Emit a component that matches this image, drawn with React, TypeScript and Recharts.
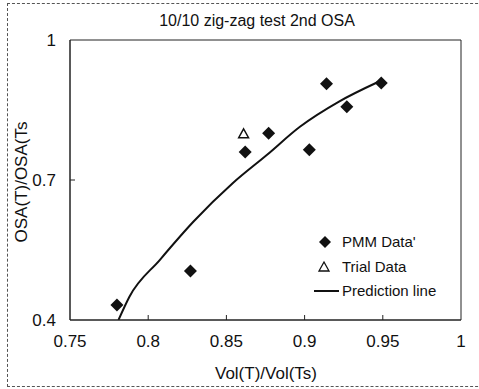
import React from "react";
import {
  ComposedChart,
  Scatter,
  Line,
  XAxis,
  YAxis,
  ReferenceArea,
  Legend,
  Label,
} from "recharts";

const xTicks = [0.75, 0.8, 0.85, 0.9, 0.95, 1];
const yTicks = [0.4, 0.7, 1];

// PMM data (diamonds)
const pmmX = [0.780, 0.827, 0.862, 0.877, 0.903, 0.914, 0.927, 0.949];
const pmmY = [0.432, 0.505, 0.760, 0.800, 0.765, 0.906, 0.857, 0.908];

// trial data (open triangle)
const trialX = [0.861];
const trialY = [0.799];

// prediction line
const predX = [0.781, 0.788, 0.8075, 0.829, 0.854, 0.876, 0.897, 0.922, 0.947];
const predY = [0.400, 0.450, 0.529, 0.611, 0.693, 0.754, 0.814, 0.868, 0.910];

const pmmData = pmmX.map((x, i) => ({ x, y: pmmY[i] }));
const trialData = trialX.map((x, i) => ({ x, y: trialY[i] }));
const predData = predX.map((x, i) => ({ x, y: predY[i] }));

const FONT = "'Liberation Sans', Arial, sans-serif";

const Diamond = (props: any) => {
  const { cx, cy } = props;
  const r = 6.5;
  return <path d={`M${cx},${cy - r}L${cx + r},${cy}L${cx},${cy + r}L${cx - r},${cy}Z`} fill="#111" />;
};

const Triangle = (props: any) => {
  const { cx, cy } = props;
  return (
    <path
      d={`M${cx},${cy - 5}L${cx + 5},${cy + 4}L${cx - 5},${cy + 4}Z`}
      fill="#fff"
      stroke="#111"
      strokeWidth={1.4}
    />
  );
};

const XTick = (props: any) => {
  const { x, y, payload } = props;
  const edge = payload.value === 0.75 || payload.value === 1;
  return (
    <g>
      {!edge && <line x1={x} y1={y} x2={x} y2={y - 5} stroke="#222" />}
      <text x={x} y={y + 27} textAnchor="middle" fontSize={17} fill="#111" fontFamily={FONT}>
        {String(payload.value)}
      </text>
    </g>
  );
};

const YTick = (props: any) => {
  const { x, y, payload } = props;
  const edge = payload.value === 0.4 || payload.value === 1;
  return (
    <g>
      {!edge && <line x1={x} y1={y} x2={x + 5} y2={y} stroke="#222" />}
      <text x={x - 14} y={y + 6} textAnchor="end" fontSize={17} fill="#111" fontFamily={FONT}>
        {String(payload.value)}
      </text>
    </g>
  );
};

const renderLegend = () => (
  <div style={{ fontFamily: FONT, fontSize: 15, color: "#111", lineHeight: "24.5px" }}>
    <div style={{ display: "flex", alignItems: "center" }}>
      <svg width={28} height={14}>
        <path d="M13,1L19,7L13,13L7,7Z" fill="#111" />
      </svg>
      <span style={{ marginLeft: 2 }}>PMM Data'</span>
    </div>
    <div style={{ display: "flex", alignItems: "center" }}>
      <svg width={28} height={14}>
        <path d="M12,2L17,11L7,11Z" fill="#fff" stroke="#111" strokeWidth={1.3} />
      </svg>
      <span style={{ marginLeft: 2 }}>Trial Data</span>
    </div>
    <div style={{ display: "flex", alignItems: "center" }}>
      <svg width={28} height={14}>
        <line x1={2} y1={7} x2={27} y2={7} stroke="#111" strokeWidth={2} />
      </svg>
      <span style={{ marginLeft: 2 }}>Prediction line</span>
    </div>
  </div>
);

export default function App() {
  return (
    <div style={{ position: "absolute", left: 0, top: 0, width: 479, height: 389, background: "#fff", overflow: "hidden" }}>
      <div
        style={{
          position: "absolute",
          left: 7,
          top: 3,
          width: 490,
          height: 382,
          borderLeft: "1px dashed #555",
          borderTop: "1px dashed #555",
          borderBottom: "1px dashed #555",
        }}
      />
      <div
        style={{
          position: "absolute",
          left: 0,
          top: 12,
          width: 514,
          textAlign: "center",
          fontFamily: FONT,
          fontSize: 16,
          color: "#111",
        }}
      >
        10/10 zig-zag test 2nd OSA
      </div>
      <ComposedChart
        width={479}
        height={389}
        margin={{ top: 40, right: 18, bottom: 0, left: 0 }}
        style={{ position: "absolute", left: 0, top: 0 }}
      >
        <XAxis
          dataKey="x"
          type="number"
          domain={[0.75, 1]}
          ticks={xTicks}
          allowDataOverflow
          height={69}
          tickSize={0}
          tickMargin={0}
          tickLine={false}
          axisLine={{ stroke: "#222" }}
          tick={<XTick />}
        >
          <Label
            content={() => (
              <text x={266} y={379} textAnchor="middle" fontSize={17} fill="#111" fontFamily={FONT}>
                Vol(T)/Vol(Ts)
              </text>
            )}
          />
        </XAxis>
        <YAxis
          dataKey="y"
          type="number"
          domain={[0.4, 1]}
          ticks={yTicks}
          allowDataOverflow
          width={70}
          tickSize={0}
          tickMargin={0}
          tickLine={false}
          axisLine={{ stroke: "#222" }}
          tick={<YTick />}
        >
          <Label
            content={() => (
              <text
                x={27}
                y={182}
                textAnchor="middle"
                fontSize={17}
                fill="#111"
                fontFamily={FONT}
                transform="rotate(-90 27 182)"
              >
                OSA(T)/OSA(Ts
              </text>
            )}
          />
        </YAxis>
        <ReferenceArea x1={0.75} x2={1} y1={0.4} y2={1} fill="none" stroke="#222" strokeWidth={1} />
        <Line
          data={predData}
          dataKey="y"
          type="monotone"
          stroke="#111"
          strokeWidth={2}
          dot={false}
          activeDot={false}
          isAnimationActive={false}
          name="Prediction line"
        />
        <Scatter data={pmmData} dataKey="y" shape={<Diamond />} isAnimationActive={false} name="PMM Data'" />
        <Scatter data={trialData} dataKey="y" shape={<Triangle />} isAnimationActive={false} name="Trial Data" />
        <Legend
          layout="vertical"
          align="center"
          verticalAlign="middle"
          content={renderLegend}
          wrapperStyle={{ left: 312, top: 230, width: 150 }}
        />
      </ComposedChart>
    </div>
  );
}
